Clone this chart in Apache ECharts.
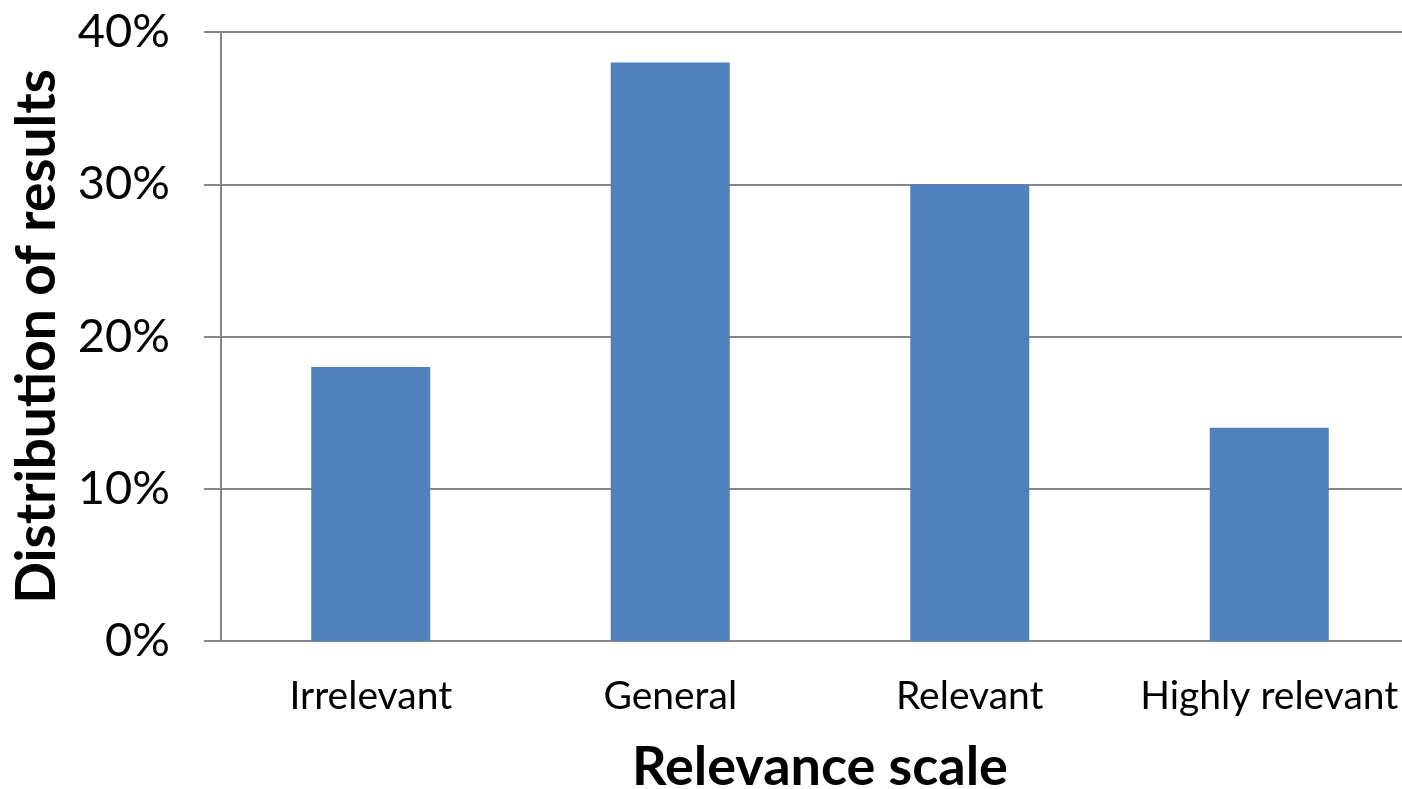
<!DOCTYPE html>
<html>
<head>
<meta charset="utf-8">
<script src="https://cdn.jsdelivr.net/npm/echarts@6/dist/echarts.min.js"></script>
<style>
  html, body { margin: 0; padding: 0; background: #ffffff; }
  #chart { width: 1402px; height: 789px; }
</style>
</head>
<body>
<div id="chart"></div>
<script>
// Share of results at each relevance level
const categories = ['Irrelevant', 'General', 'Relevant', 'Highly relevant'];
const shares = [0.18, 0.38, 0.30, 0.14];
const yTicks = { min: 0, max: 0.4, step: 0.1 };

const FONT = 'Lato';
const GRID_GRAY = '#868686';

const chart = echarts.init(document.getElementById('chart'), null, { renderer: 'canvas' });

chart.setOption({
  animation: false,
  backgroundColor: '#ffffff',
  // plot area runs past the right edge of the canvas
  grid: { left: 221, top: 32, width: 1198, height: 609, containLabel: false, outerBoundsMode: 'none' },
  xAxis: {
    type: 'category',
    data: categories,
    name: 'Relevance scale',
    nameLocation: 'middle',
    nameGap: 100,
    nameTextStyle: { fontFamily: FONT, fontWeight: 'bold', fontSize: 54, color: '#000000' },
    axisLine: { show: true, lineStyle: { color: GRID_GRAY, width: 2 } },
    axisTick: { show: false },
    axisLabel: { fontFamily: FONT, fontSize: 39, color: '#000000', margin: 36, interval: 0 }
  },
  yAxis: {
    type: 'value',
    min: yTicks.min,
    max: yTicks.max,
    interval: yTicks.step,
    name: 'Distribution of results',
    nameLocation: 'middle',
    nameGap: 156,
    nameRotate: 90,
    nameTextStyle: { fontFamily: FONT, fontWeight: 'bold', fontSize: 55, color: '#000000' },
    axisLine: { show: true, lineStyle: { color: GRID_GRAY, width: 2 } },
    axisTick: { show: true, length: 17, lineStyle: { color: GRID_GRAY, width: 2 } },
    splitLine: { show: true, lineStyle: { color: GRID_GRAY, width: 2 } },
    axisLabel: {
      fontFamily: FONT, fontSize: 47, color: '#000000', margin: 51,
      formatter: v => Math.round(v * 100) + '%'
    }
  },
  series: [{
    type: 'bar',
    data: shares,
    barWidth: 119,
    itemStyle: { color: '#4F81BD' }
  }]
});
</script>
</body>
</html>
